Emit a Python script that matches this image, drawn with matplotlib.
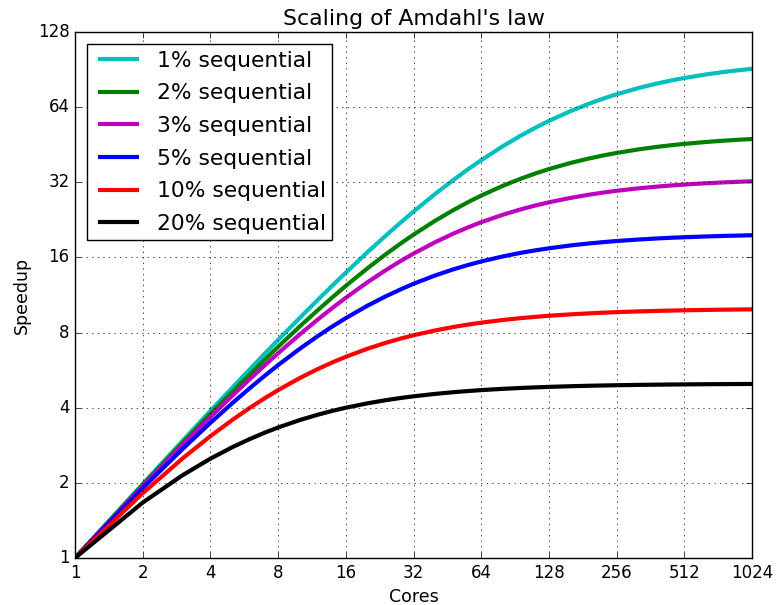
import matplotlib
matplotlib.use('Agg')
import matplotlib.pyplot as plt
from matplotlib.ticker import FixedLocator, FixedFormatter, NullLocator

cores = [1, 2, 3, 4, 5, 6, 7, 8, 10, 12, 14, 16, 20, 24, 28, 32, 40, 48, 56, 64,
         80, 96, 112, 128, 160, 192, 224, 256, 320, 384, 448, 512, 640, 768, 896, 1024]

speedup_1 = [1.0, 1.980, 2.941, 3.883, 4.808, 5.714, 6.604, 7.477, 9.174, 10.81, 12.39, 13.91,
             16.81, 19.51, 22.05, 24.43, 28.78, 32.65, 36.13, 39.26, 44.69, 49.23, 53.08, 56.39,
             61.78, 65.98, 69.35, 72.11, 76.37, 79.50, 81.90, 83.80, 86.60, 88.58, 90.05, 91.18]
speedup_2 = [1.0, 1.961, 2.885, 3.774, 4.630, 5.455, 6.250, 7.018, 8.475, 9.836, 11.11, 12.31,
             14.49, 16.44, 18.18, 19.75, 22.47, 24.74, 26.67, 28.32, 31.01, 33.10, 34.78, 36.16,
             38.28, 39.83, 41.03, 41.97, 43.36, 44.34, 45.07, 45.63, 46.44, 47.00, 47.41, 47.72]
speedup_3 = [1.0, 1.942, 2.830, 3.670, 4.464, 5.217, 5.932, 6.612, 7.874, 9.023, 10.07, 11.03,
             12.74, 14.20, 15.47, 16.58, 18.43, 19.92, 21.13, 22.15, 23.74, 24.94, 25.87, 26.61,
             27.73, 28.53, 29.13, 29.60, 30.27, 30.74, 31.09, 31.35, 31.73, 31.99, 32.17, 32.31]
speedup_5 = [1.0, 1.905, 2.727, 3.478, 4.167, 4.800, 5.385, 5.926, 6.897, 7.742, 8.485, 9.143,
             10.26, 11.16, 11.91, 12.55, 13.56, 14.33, 14.93, 15.42, 16.16, 16.70, 17.10, 17.41,
             17.88, 18.20, 18.44, 18.62, 18.88, 19.06, 19.19, 19.28, 19.42, 19.52, 19.58, 19.64]
speedup_10 = [1.0, 1.818, 2.500, 3.077, 3.571, 4.000, 4.375, 4.706, 5.263, 5.714, 6.087, 6.400,
              6.897, 7.273, 7.568, 7.805, 8.163, 8.421, 8.615, 8.767, 8.989, 9.143, 9.256, 9.343,
              9.467, 9.552, 9.614, 9.660, 9.726, 9.771, 9.803, 9.827, 9.861, 9.884, 9.901, 9.913]
speedup_20 = [1.0, 1.667, 2.143, 2.500, 2.778, 3.000, 3.182, 3.333, 3.571, 3.750, 3.889, 4.000,
              4.167, 4.286, 4.375, 4.444, 4.545, 4.615, 4.667, 4.706, 4.762, 4.800, 4.828, 4.848,
              4.878, 4.898, 4.912, 4.923, 4.938, 4.948, 4.956, 4.961, 4.969, 4.974, 4.978, 4.981]

labels = ['1% sequential', '2% sequential', '3% sequential',
          '5% sequential', '10% sequential', '20% sequential']
colors = ['c', 'g', 'm', 'b', 'r', 'k']

xticks = [1, 2, 4, 8, 16, 32, 64, 128, 256, 512, 1024]
yticks = [1, 2, 4, 8, 16, 32, 64, 128]

plt.style.use('classic')
fig = plt.figure(figsize=(7.78, 6.05), dpi=100, facecolor='white')
ax = fig.add_axes([0.0964, 0.0777, 0.8702, 0.8693])

series = [speedup_1, speedup_2, speedup_3, speedup_5, speedup_10, speedup_20]
for y, lab, c in zip(series, labels, colors):
    ax.plot(cores, y, color=c, lw=3, label=lab)

ax.set_xscale('log', base=2)
ax.set_yscale('log', base=2)
ax.set_xlim(1, 1024)
ax.set_ylim(1, 128)
ax.xaxis.set_major_locator(FixedLocator(xticks))
ax.xaxis.set_major_formatter(FixedFormatter([str(v) for v in xticks]))
ax.yaxis.set_major_locator(FixedLocator(yticks))
ax.yaxis.set_major_formatter(FixedFormatter([str(v) for v in yticks]))
ax.xaxis.set_minor_locator(NullLocator())
ax.yaxis.set_minor_locator(NullLocator())
ax.grid(True)

ax.set_title("Scaling of Amdahl's law", fontsize=15.8)
ax.set_xlabel('Cores', fontsize=12.5)
ax.set_ylabel('Speedup', fontsize=12.5)
ax.legend(loc='upper left', fontsize=15.7, handlelength=2.3, handletextpad=0.6,
          labelspacing=0.58, borderpad=0.3, borderaxespad=0.55)

fig.savefig('out.png', dpi=100, facecolor='white')
